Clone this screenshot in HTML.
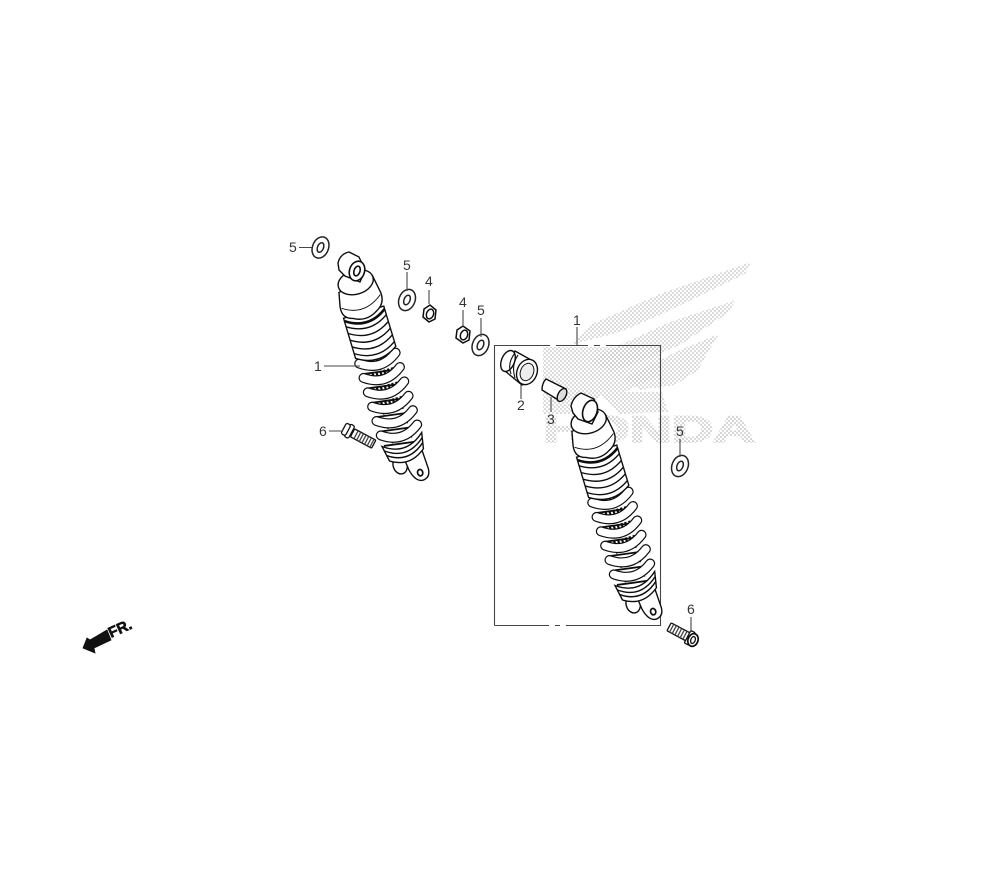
<!DOCTYPE html>
<html><head><meta charset="utf-8"><style>
html,body{margin:0;padding:0;background:#fff}
svg{display:block}
text{font-family:"Liberation Sans",sans-serif;font-size:14px;fill:#333}
</style></head><body>
<svg width="1000" height="880" viewBox="0 0 1000 880" xmlns="http://www.w3.org/2000/svg">
<defs>
<pattern id="d" width="4" height="4" patternUnits="userSpaceOnUse">
<circle cx="1" cy="1" r=".75" fill="#aaa"/><circle cx="3" cy="3" r=".75" fill="#aaa"/>
</pattern>
<filter id="b" x="-5%" y="-5%" width="110%" height="110%"><feGaussianBlur stdDeviation=".35"/></filter>
<g id="w"><ellipse rx="8" ry="11" fill="#fff" stroke="#222" stroke-width="1.5"/><ellipse rx="3" ry="5" fill="#fff" stroke="#222" stroke-width="1.5"/></g>
<g id="coil" fill="none">
<path d="M-19,0Q0,14 19,0" stroke="#111" stroke-width="10" stroke-linecap="round"/>
<path d="M-19,0Q0,14 19,0" stroke="#fff" stroke-width="7.6" stroke-linecap="round"/>
</g>
<g id="shock" fill="#fff" stroke="#111" stroke-width="1.4">
<!-- lower lobes -->
<ellipse cx="-9" cy="201" rx="7" ry="9"/>
<path d="M-4,190L-2,208Q1,222 9,222Q17,221 17,212L16,188Z"/>
<ellipse cx="8" cy="214" rx="2.6" ry="3.2" stroke-width="1.7"/>
<!-- shaft hatching -->
<rect x="-17" y="76" width="34" height="114" fill="#fff" stroke="none"/>
<path d="M-13,90V140M-9,90V140M-5,90V140M-1,90V140M3,90V140M7,90V140M11,90V140" stroke-width="2.2" stroke-dasharray="6 9"/>
<path d="M-10,142V186M10,142V186M-3,142V186M4,142V186" stroke-width="1.3" stroke-dasharray="6 9"/>
<!-- back coil rungs -->
<path d="M-19,88L19,94M-19,103L19,109M-19,118L19,124M-19,133L19,139M-19,148L19,154M-19,163L19,169M-19,178L19,184" fill="none" stroke-width="1.8"/>
<!-- coils -->
<use href="#coil" y="92"/><use href="#coil" y="107"/><use href="#coil" y="122"/><use href="#coil" y="137"/><use href="#coil" y="152"/><use href="#coil" y="167"/>
<path d="M-21,178Q0,194 21,176L18,192Q0,206-18,194Z"/>
<path d="M-20,183Q0,198 20,181M-19,188Q0,202 19,186" fill="none"/>
<!-- boot -->
<path d="M-21,44L-21,86Q0,100 21,86L21,44Z"/>
<path d="M-21,53Q0,67 21,53M-21,60Q0,74 21,60M-21,67Q0,81 21,67M-21,74Q0,88 21,74M-21,81Q0,95 21,81" fill="none"/>
<path d="M-21,47Q0,62 21,47" fill="none" stroke-width="2.6"/>
<!-- skirt -->
<path d="M-18,18L-21,32Q-23,44-12,47Q0,54 12,47Q23,42 22,30L19,12Z"/>
<path d="M-20,34Q0,48 21,32" fill="none" stroke-width="1"/>
<!-- dome -->
<ellipse cx="1" cy="13" rx="18" ry="12"/>
</g>
</defs>

<!-- Honda logo -->
<g fill="url(#d)">
<path d="M751,262L745,274L660,315L620,332L570,345L590,325L660,294Z"/>
<path d="M736,300L728,313L680,345L640,362L610,372L590,360L620,345L670,322Z"/>
<path d="M719,334L708,352L698,370L675,385L640,390L625,378L680,350Z"/>
<path d="M543,347L610,347L660,347L660,375L625,392L662,392L668,412L620,414L600,395L585,414L543,414Z"/>
<text x="543" y="442" style="font-family:'Liberation Sans',sans-serif;font-size:37px;font-weight:bold;fill:url(#d);stroke:url(#d);stroke-width:2" textLength="212" lengthAdjust="spacingAndGlyphs">HONDA</text>
</g>

<g filter="url(#b)">
<!-- Box -->
<path d="M494.5,625.5V345.5H550M556,345.5H588M594,345.5H600M606,345.5H660.5V625.5H566M560,625.5H555M549,625.5H494.5" fill="none" stroke="#444" stroke-width="1.1"/>

<!-- Left shock -->
<g transform="translate(351,270) rotate(-16.7)"><use href="#shock"/></g>
<g stroke="#111" stroke-width="1.4" fill="#fff">
<path d="M338,263Q340,254 349,252L359,257L365,270L360,282L345,276L339,270Z"/>
<ellipse cx="357" cy="271" rx="7.5" ry="10" transform="rotate(18 357 271)" stroke-width="1.6"/>
<ellipse cx="357" cy="271" rx="3" ry="5" transform="rotate(18 357 271)" stroke-width="1.6"/>
</g>

<!-- Right shock -->
<g transform="translate(584,409) rotate(-16.7)"><use href="#shock"/></g>
<g stroke="#111" stroke-width="1.4" fill="#fff">
<path d="M571,406Q573,397 581,393L594,399L598,412L592,424L578,419L573,413Z"/>
<ellipse cx="590" cy="411" rx="7" ry="11" transform="rotate(18 590 411)" stroke-width="1.6"/>
</g>

<!-- Washers -->
<use href="#w" x="320.5" y="247.5" transform="rotate(22 320.5 247.5)"/>
<use href="#w" x="407" y="300" transform="rotate(22 407 300)"/>
<use href="#w" x="480.5" y="345" transform="rotate(22 480.5 345)"/>
<use href="#w" x="680" y="466" transform="rotate(22 680 466)"/>

<!-- Nuts -->
<g stroke="#111" stroke-width="1.5" fill="#fff">
<path d="M424,309L430,305L436,310L435,319L429,322L423,317Z"/>
<ellipse cx="430" cy="314" rx="3.5" ry="5" transform="rotate(20 430 314)"/>
<path d="M457,330L463,326L470,331L469,340L463,343L456,338Z"/>
<ellipse cx="464" cy="335" rx="3.5" ry="5" transform="rotate(20 464 335)"/>
</g>

<!-- Collar 2 -->
<g stroke="#111" stroke-width="1.4" fill="#fff">
<path d="M515,351L533,361L522,385L505,371Z"/>
<ellipse cx="508" cy="361" rx="6.5" ry="11" transform="rotate(22 508 361)"/>
<path d="M515,353Q507,363 511,374M518,355Q511,365 515,378" fill="none" stroke-width="1.1"/>
<ellipse cx="527" cy="372" rx="10" ry="13" transform="rotate(22 527 372)"/>
<ellipse cx="527" cy="372" rx="6.5" ry="9" transform="rotate(22 527 372)" fill="#eee" stroke-width="1"/>
</g>

<!-- Sleeve 3 -->
<g stroke="#111" stroke-width="1.4" fill="#fff">
<path d="M546,379L566,389L560,401L542,390Q542,383 546,379Z"/>
<ellipse cx="562" cy="395" rx="4" ry="7" transform="rotate(28 562 395)" fill="#ddd"/>
</g>

<!-- Bolts -->
<g stroke="#111" stroke-width="1.3" fill="#fff">
<g transform="translate(349,431) rotate(28)">
<rect x="4" y="-4.5" width="24" height="9" rx="1"/>
<path d="M8,-4.5V4.5M11,-4.5V4.5M14,-4.5V4.5M17,-4.5V4.5M20,-4.5V4.5M23,-4.5V4.5M26,-4.5V4.5" stroke="#444"/>
<rect x="-2" y="-7" width="5" height="14" rx="2"/><rect x="-6" y="-6" width="5" height="12" rx="2"/>
</g>
<g transform="translate(692,639) rotate(208)">
<rect x="4" y="-4.5" width="22" height="9" rx="1"/>
<path d="M8,-4.5V4.5M11,-4.5V4.5M14,-4.5V4.5M17,-4.5V4.5M20,-4.5V4.5M23,-4.5V4.5" stroke="#444"/>
<rect x="0" y="-7" width="5" height="14" rx="1"/>
</g>
<ellipse cx="693" cy="640" rx="5" ry="6.5" transform="rotate(20 693 640)" stroke-width="1.7"/>
<ellipse cx="693" cy="640" rx="2.2" ry="3.6" transform="rotate(20 693 640)"/>
</g>

<!-- Leaders -->
<path d="M299,247.5H312M407,272V291M429,290V304M463,310V325M481,318V337M577,327V345M521,385V399M551,397V412M680,439V457M691,617V632M324,366H360M329,431H343" fill="none" stroke="#444" stroke-width="1.1"/>
</g>

<!-- Labels -->
<text x="289" y="252">5</text>
<text x="403" y="270">5</text>
<text x="425" y="286">4</text>
<text x="459" y="307">4</text>
<text x="477" y="315">5</text>
<text x="573" y="325">1</text>
<text x="314" y="371">1</text>
<text x="319" y="436">6</text>
<text x="517" y="410">2</text>
<text x="547" y="424">3</text>
<text x="676" y="436">5</text>
<text x="687" y="614">6</text>

<!-- FR arrow -->
<path d="M83,648L87,638L90,640L107,630L111,640L94,648L95,653Z" fill="#111" stroke="#111" stroke-width=".8"/>
<text transform="translate(111,638) rotate(-24)" style="font-size:15px;font-weight:bold;fill:#111;stroke:#111;stroke-width:.6">FR.</text>
</svg>
</body></html>
